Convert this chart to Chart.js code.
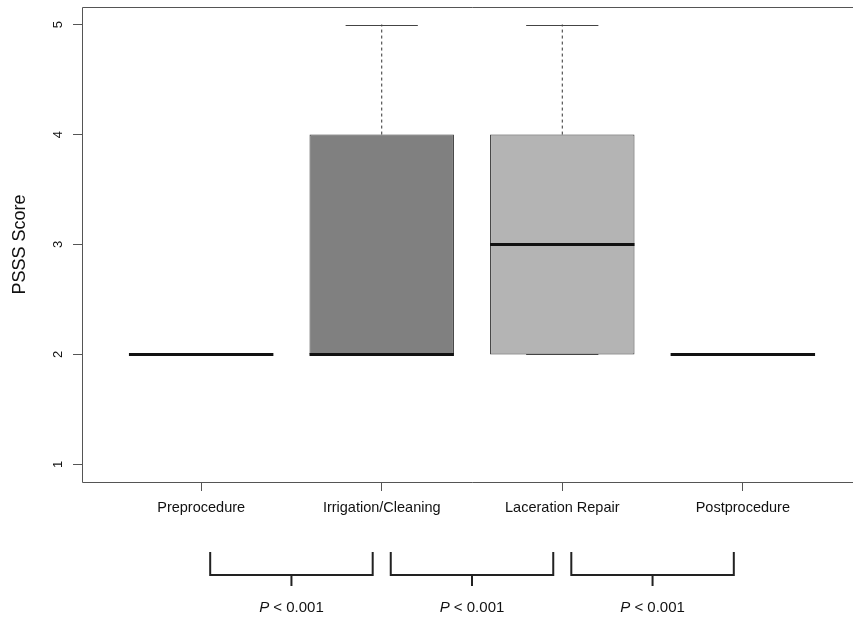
<!DOCTYPE html>
<html>
<head>
<meta charset="utf-8">
<script src="https://cdn.jsdelivr.net/npm/chart.js@4"></script>
<style>
  html, body { margin: 0; padding: 0; background: #fff; overflow: hidden; }
  #wrap { width: 853px; height: 619px; overflow: hidden; }
</style>
</head>
<body>
<div id="wrap"><canvas id="box-chart" width="870" height="619"></canvas></div>
<script>
// ─── Data ────────────────────────────────────────────────────────────────────

const categories = ['Preprocedure', 'Irrigation/Cleaning', 'Laceration Repair', 'Postprocedure'];
const mins       = [2, 2, 2, 2];
const q1s        = [2, 2, 2, 2];
const medians    = [2, 2, 3, 2];
const q3s        = [2, 4, 4, 2];
const maxs       = [2, 5, 5, 2];
const boxFills   = ['#ffffff', '#808080', '#b4b4b4', '#ffffff'];
const yTicks     = [1, 2, 3, 4, 5];

// pairwise comparisons drawn as brackets under the axis
const comparisons = [[0, 1], [1, 2], [2, 3]];
const pLabels     = ['< 0.001', '< 0.001', '< 0.001'];

const FONT = "'Liberation Sans', Arial, Helvetica, sans-serif";

// ─── Box extras: medians, whiskers, staples, frame, brackets ────────────────

const boxExtras = {
    id: 'boxExtras',
    afterDatasetsDraw(chart) {
        const ctx = chart.ctx;
        const xs = chart.scales.x, ys = chart.scales.y;
        const half = (xs.getPixelForValue(1) - xs.getPixelForValue(0)) * 0.4;
        ctx.save();
        categories.forEach((c, i) => {
            const cx = xs.getPixelForValue(i);
            // whiskers (dashed)
            ctx.strokeStyle = '#333';
            ctx.lineWidth = 1;
            ctx.setLineDash([3, 3]);
            if (maxs[i] > q3s[i]) {
                ctx.beginPath();
                ctx.moveTo(cx, ys.getPixelForValue(q3s[i]));
                ctx.lineTo(cx, ys.getPixelForValue(maxs[i]));
                ctx.stroke();
            }
            if (mins[i] < q1s[i]) {
                ctx.beginPath();
                ctx.moveTo(cx, ys.getPixelForValue(q1s[i]));
                ctx.lineTo(cx, ys.getPixelForValue(mins[i]));
                ctx.stroke();
            }
            ctx.setLineDash([]);
            // staples
            ctx.strokeStyle = '#444';
            [mins[i], maxs[i]].forEach(v => {
                const py = Math.round(ys.getPixelForValue(v)) + 0.5;
                ctx.beginPath();
                ctx.moveTo(cx - half / 2, py);
                ctx.lineTo(cx + half / 2, py);
                ctx.stroke();
            });
            // median
            ctx.strokeStyle = '#111';
            ctx.lineWidth = 3;
            const my = ys.getPixelForValue(medians[i]);
            ctx.beginPath();
            ctx.moveTo(cx - half, my);
            ctx.lineTo(cx + half, my);
            ctx.stroke();
        });

        // plot frame (right side falls outside the visible page)
        const a = chart.chartArea;
        const L = Math.round(a.left) + 0.5, T = Math.round(a.top) + 0.5, B = Math.round(a.bottom) + 0.5;
        ctx.strokeStyle = '#555';
        ctx.lineWidth = 1;
        ctx.beginPath();
        ctx.moveTo(a.right, T);
        ctx.lineTo(L, T);
        ctx.lineTo(L, B);
        ctx.lineTo(a.right, B);
        ctx.stroke();

        // comparison brackets
        const bTop = a.bottom + 70, bBot = a.bottom + 93, bTick = a.bottom + 104;
        ctx.strokeStyle = '#222';
        ctx.lineWidth = 2;
        ctx.fillStyle = '#111';
        ctx.textBaseline = 'middle';
        comparisons.forEach(([l, r], k) => {
            const x0 = xs.getPixelForValue(l + 0.05);
            const x1 = xs.getPixelForValue(r - 0.05);
            const xm = (x0 + x1) / 2;
            ctx.beginPath();
            ctx.moveTo(x0, bTop);
            ctx.lineTo(x0, bBot);
            ctx.lineTo(x1, bBot);
            ctx.lineTo(x1, bTop);
            ctx.moveTo(xm, bBot);
            ctx.lineTo(xm, bTick);
            ctx.stroke();

            ctx.font = 'italic 15px ' + FONT;
            const pw = ctx.measureText('P ').width;
            ctx.font = '15px ' + FONT;
            const rw = ctx.measureText(pLabels[k]).width;
            const sx = xm - (pw + rw) / 2;
            const ty = a.bottom + 126;
            ctx.textAlign = 'left';
            ctx.font = 'italic 15px ' + FONT;
            ctx.fillText('P', sx, ty);
            ctx.font = '15px ' + FONT;
            ctx.fillText(pLabels[k], sx + pw, ty);
        });
        ctx.restore();
    },
};

// ─── Chart ───────────────────────────────────────────────────────────────────

const ctx = document.getElementById('box-chart').getContext('2d');
new Chart(ctx, {
    type: 'bar',
    data: {
        datasets: [{
            data: categories.map((c, i) => ({ x: i, y: [q1s[i], q3s[i]] })),
            backgroundColor: boxFills,
            borderColor: '#333',
            borderWidth: 1,
            borderSkipped: false,
            categoryPercentage: 1,
            barPercentage: 0.8,
        }],
    },
    options: {
        responsive: false,
        animation: false,
        layout: { padding: { top: 7, right: 8, left: 0, bottom: 0 } },
        plugins: { legend: { display: false }, tooltip: { enabled: false } },
        scales: {
            x: {
                type: 'linear',
                min: -0.66,
                max: 3.66,
                offset: false,
                afterBuildTicks: axis => { axis.ticks = categories.map((c, i) => ({ value: i })); },
                afterFit: axis => {
                    axis.height = 137;
                    axis.paddingLeft = 0;
                    axis.paddingRight = 0;
                },
                ticks: {
                    callback: v => categories[v],
                    color: '#111',
                    font: { family: FONT, size: 14.5 },
                    padding: 8,
                    maxRotation: 0,
                    autoSkip: false,
                },
                grid: { offset: false, drawOnChartArea: false, tickLength: 9, color: '#555' },
                border: { display: false },
            },
            y: {
                min: 0.84,
                max: 5.16,
                afterBuildTicks: axis => { axis.ticks = yTicks.map(v => ({ value: v })); },
                afterFit: axis => {
                    axis.width = 82;
                    axis.paddingTop = 0;
                    axis.paddingBottom = 0;
                },
                ticks: {
                    color: '#111',
                    font: { family: FONT, size: 13 },
                    minRotation: 90,
                    maxRotation: 90,
                    crossAlign: 'center',
                    padding: 11,
                },
                grid: { drawOnChartArea: false, tickLength: 9, color: '#555' },
                border: { display: false },
                title: {
                    display: true,
                    text: 'PSSS Score',
                    color: '#111',
                    font: { family: FONT, size: 18 },
                    padding: { top: 9, bottom: 0 },
                },
            },
        },
    },
    plugins: [boxExtras],
});
</script>
</body>
</html>
